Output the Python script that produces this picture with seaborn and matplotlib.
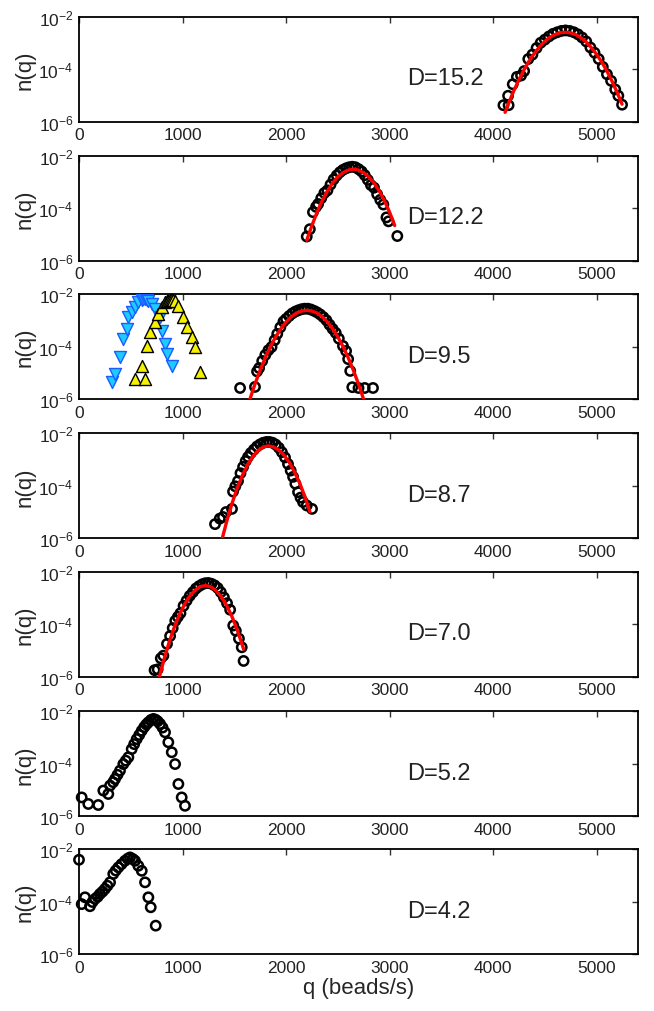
import numpy as np
import pandas as pd
import matplotlib
matplotlib.use("Agg")
import matplotlib.pyplot as plt
import seaborn as sns
from matplotlib.ticker import NullLocator

# datos: q (beads/s) y log10 n(q)
d_labels = ["D=15.2", "D=12.2", "D=9.5", "D=8.7", "D=7.0", "D=5.2", "D=4.2"]

q_152 = [4100, 4150, 4145, 4190, 4230, 4270, 4300, 4340, 4380, 4420, 4460, 4500, 4540,
         4580, 4620, 4660, 4700, 4740, 4780, 4820, 4860, 4900, 4940, 4980, 5020, 5060,
         5100, 5140, 5180, 5210, 5246]
ln_152 = [-5.38, -5.38, -5.02, -4.58, -4.30, -4.25, -4.08, -3.62, -3.45, -3.20, -3.00, -2.88,
          -2.76, -2.66, -2.60, -2.55, -2.53, -2.55, -2.60, -2.68, -2.80, -2.95, -3.18, -3.38,
          -3.62, -3.92, -4.20, -4.45, -4.78, -5.02, -5.36]
fq_152 = [4116, 4146, 4196, 4246, 4296, 4346, 4396, 4446, 4496, 4546, 4596, 4646, 4696,
          4746, 4796, 4846, 4896, 4946, 4996, 5046, 5096, 5146, 5196, 5246]
fn_152 = [-5.65, -5.34, -4.87, -4.44, -4.05, -3.71, -3.42, -3.17, -2.96, -2.80, -2.69, -2.62,
          -2.60, -2.62, -2.69, -2.80, -2.96, -3.17, -3.42, -3.71, -4.05, -4.44, -4.87, -5.34]

q_122 = [2200, 2230, 2260, 2290, 2310, 2340, 2370, 2400, 2430, 2460, 2490, 2520, 2550, 2580,
         2610, 2640, 2670, 2700, 2730, 2760, 2790, 2820, 2850, 2880, 2910, 2940, 2970, 2990, 3075]
ln_122 = [-5.08, -4.80, -4.15, -3.95, -3.84, -3.62, -3.42, -3.32, -3.10, -2.90, -2.75, -2.63,
          -2.54, -2.48, -2.44, -2.42, -2.44, -2.51, -2.60, -2.74, -2.92, -3.12, -3.22, -3.47,
          -3.68, -3.86, -4.35, -4.50, -5.06]
fq_122 = [2200, 2250, 2300, 2350, 2400, 2450, 2500, 2550, 2600, 2650, 2700, 2750, 2800, 2850,
          2900, 2950, 3000, 3050]
fn_122 = [-5.22, -4.66, -4.15, -3.71, -3.34, -3.04, -2.81, -2.65, -2.55, -2.51, -2.55, -2.65,
          -2.81, -3.04, -3.34, -3.71, -4.15, -4.66]

q_95 = [1556, 1700, 1720, 1740, 1770, 1800, 1830, 1860, 1890, 1915, 1945, 1975, 2000, 2030,
        2060, 2090, 2120, 2150, 2180, 2210, 2240, 2270, 2300, 2330, 2360, 2390, 2420, 2450,
        2480, 2510, 2550, 2580, 2600, 2620, 2640, 2700, 2760, 2840]
ln_95 = [-5.58, -5.54, -4.95, -4.82, -4.55, -4.32, -4.14, -4.02, -3.76, -3.52, -3.27, -3.05,
         -2.95, -2.84, -2.74, -2.67, -2.62, -2.58, -2.56, -2.56, -2.59, -2.64, -2.70, -2.78,
         -2.88, -3.00, -3.17, -3.33, -3.48, -3.70, -3.98, -4.17, -4.48, -4.93, -5.55, -5.58,
         -5.58, -5.58]
fq_95 = [1600, 1650, 1700, 1750, 1800, 1850, 1900, 1950, 2000, 2050, 2100, 2150, 2200, 2250,
         2300, 2350, 2400, 2450, 2500, 2550, 2600, 2650, 2700, 2750, 2800]
fn_95 = [-6.67, -6.02, -5.43, -4.90, -4.42, -4.00, -3.63, -3.32, -3.07, -2.87, -2.73, -2.65,
         -2.62, -2.65, -2.73, -2.87, -3.07, -3.32, -3.63, -4.00, -4.42, -4.90, -5.43, -6.02, -6.67]

# triangulos azules y amarillos del panel D=9.5
q_blue = [316, 348, 396, 428, 461, 477, 509, 541, 573, 605, 620, 638, 655, 670, 702, 734,
          783, 799, 831, 847, 896]
ln_blue = [-5.36, -5.05, -4.41, -3.71, -3.33, -2.89, -2.70, -2.51, -2.32, -2.23, -2.20, -2.19,
           -2.21, -2.26, -2.38, -2.57, -2.89, -3.40, -3.90, -4.29, -4.73]
q_yel = [541, 605, 638, 654, 686, 734, 766, 799, 831, 850, 863, 880, 896, 912, 928, 959,
         1008, 1041, 1089, 1121, 1169]
ln_yel = [-5.24, -4.73, -5.24, -3.97, -3.46, -3.08, -2.76, -2.51, -2.32, -2.27, -2.26, -2.21,
          -2.19, -2.21, -2.26, -2.45, -2.89, -3.27, -3.65, -4.03, -4.98]

q_87 = [1314, 1360, 1391, 1420, 1478, 1488, 1510, 1536, 1560, 1585, 1610, 1633, 1660, 1690,
        1720, 1750, 1780, 1810, 1840, 1870, 1900, 1930, 1960, 1990, 2019, 2045, 2068, 2090,
        2116, 2140, 2164, 2200, 2251]
ln_87 = [-5.46, -5.25, -5.19, -5.00, -4.88, -4.22, -4.02, -3.82, -3.52, -3.28, -3.06, -2.90,
         -2.75, -2.62, -2.50, -2.42, -2.36, -2.33, -2.33, -2.36, -2.43, -2.55, -2.72, -2.92,
         -3.17, -3.42, -3.66, -3.92, -4.24, -4.45, -4.62, -4.75, -4.88]
fq_87 = [1350, 1380, 1430, 1480, 1530, 1580, 1630, 1680, 1730, 1780, 1830, 1880, 1930, 1980,
         2030, 2080, 2130, 2180, 2230]
fn_87 = [-6.56, -6.06, -5.31, -4.65, -4.07, -3.59, -3.19, -2.88, -2.66, -2.52, -2.48, -2.52,
         -2.64, -2.83, -3.10, -3.46, -3.88, -4.39, -4.98]

q_70 = [730, 760, 790, 815, 850, 880, 905, 930, 955, 980, 1010, 1040, 1070, 1100, 1130, 1160,
        1190, 1220, 1250, 1280, 1310, 1340, 1370, 1400, 1430, 1460, 1490, 1515, 1545, 1572, 1590]
ln_70 = [-5.75, -5.72, -5.30, -5.20, -4.75, -4.45, -4.15, -3.87, -3.72, -3.58, -3.30, -3.10,
         -2.92, -2.78, -2.64, -2.55, -2.48, -2.44, -2.43, -2.46, -2.52, -2.62, -2.78, -2.98,
         -3.20, -3.45, -4.05, -4.25, -4.55, -4.88, -5.40]
fq_70 = [720, 770, 820, 870, 920, 970, 1020, 1070, 1120, 1170, 1220, 1270, 1320, 1370, 1420,
         1470, 1520, 1570, 1590]
fn_70 = [-6.96, -6.11, -5.36, -4.70, -4.12, -3.64, -3.24, -2.93, -2.71, -2.57, -2.53, -2.57,
         -2.71, -2.93, -3.24, -3.64, -4.12, -4.70, -4.95]

q_52 = [26, 90, 186, 235, 283, 300, 330, 348, 372, 396, 428, 452, 477, 509, 533, 557, 582,
        606, 630, 650, 670, 695, 718, 740, 760, 783, 807, 831, 863, 896, 928, 960, 992, 1024]
ln_52 = [-5.28, -5.53, -5.57, -5.02, -5.15, -4.83, -4.70, -4.58, -4.42, -4.26, -4.01, -3.88,
         -3.75, -3.44, -3.25, -3.06, -2.90, -2.74, -2.60, -2.50, -2.42, -2.33, -2.29, -2.32,
         -2.38, -2.48, -2.62, -2.80, -3.18, -3.56, -4.01, -4.77, -5.28, -5.60]

q_42 = [0, 26, 58, 106, 130, 155, 180, 203, 228, 251, 275, 300, 331, 355, 380, 410, 444, 470,
        493, 520, 541, 573, 606, 638, 670, 693, 741]
ln_42 = [-2.41, -4.10, -3.84, -4.18, -4.02, -3.90, -3.82, -3.71, -3.62, -3.52, -3.40, -3.27,
         -2.95, -2.82, -2.70, -2.58, -2.45, -2.37, -2.32, -2.38, -2.45, -2.64, -2.83, -3.27,
         -3.84, -4.22, -4.92]

circles = [(q_152, ln_152), (q_122, ln_122), (q_95, ln_95), (q_87, ln_87),
           (q_70, ln_70), (q_52, ln_52), (q_42, ln_42)]
fits = [(fq_152, fn_152), (fq_122, fn_122), (fq_95, fn_95), (fq_87, fn_87),
        (fq_70, fn_70), None, None]

sns.set_style("white")
plt.rcParams['font.family'] = ['Liberation Sans', 'DejaVu Sans']
plt.rcParams['mathtext.fontset'] = 'custom'
plt.rcParams['mathtext.rm'] = 'Liberation Sans'
plt.rcParams['mathtext.it'] = 'Liberation Sans:italic'

fig = plt.figure(figsize=(6.54, 10.12), dpi=100)
W, H = 654, 1012
tops = [17.5, 156.7, 295, 434.3, 572.7, 712.3, 850]
ph = 105

for i in range(7):
    ax = fig.add_axes([79 / W, 1 - (tops[i] + ph) / H, 559 / W, ph / H])
    qc, lc = circles[i]
    dfc = pd.DataFrame({"q": qc, "n": 10 ** np.array(lc)})
    if i == 2:
        dfb = pd.DataFrame({"q": q_blue, "n": 10 ** np.array(ln_blue)})
        dfy = pd.DataFrame({"q": q_yel, "n": 10 ** np.array(ln_yel)})
        sns.scatterplot(data=dfb, x="q", y="n", marker="v", s=75, color="#1ecbff",
                        edgecolor="#1a5cff", linewidth=1.0, ax=ax, zorder=3)
        sns.scatterplot(data=dfy, x="q", y="n", marker="^", s=75, color="#f5f000",
                        edgecolor="black", linewidth=1.0, ax=ax, zorder=3)
    sns.scatterplot(data=dfc, x="q", y="n", marker="o", s=45, facecolor="none",
                    edgecolor="black", linewidth=1.8, ax=ax, zorder=3, clip_on=False)
    if fits[i] is not None:
        fq, fn = fits[i]
        dff = pd.DataFrame({"q": fq, "n": 10 ** np.array(fn)})
        sns.lineplot(data=dff, x="q", y="n", color="red", linewidth=2.4, sort=False,
                     estimator=None, ax=ax, zorder=4)
    ax.set_yscale("log")
    ax.set_xlim(0, 5400)
    ax.set_ylim(1e-6, 1e-2)
    ax.set_xticks([0, 1000, 2000, 3000, 4000, 5000])
    ax.set_yticks([1e-6, 1e-4, 1e-2])
    ax.yaxis.set_minor_locator(NullLocator())
    ax.tick_params(direction="in", length=4, width=1, top=True, right=True,
                   labelsize=12.5, pad=4, colors="#333333", labelcolor="#222222")
    for sp in ax.spines.values():
        sp.set_linewidth(1.3)
        sp.set_color("black")
    ax.set_xlabel("q (beads/s)" if i == 6 else "", fontsize=16, labelpad=2)
    ax.set_ylabel("n(q)", fontsize=16, labelpad=2)
    ax.text(3170, 10 ** -4.35, d_labels[i], fontsize=17, va="center", ha="left",
            color="#222222")

fig.savefig("out.png", dpi=100)
